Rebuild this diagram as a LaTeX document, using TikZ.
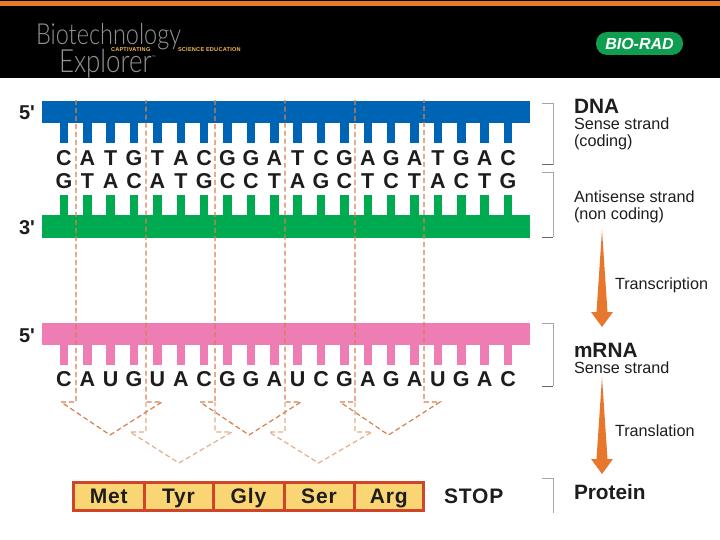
\documentclass[tikz,border=0pt]{standalone}
\usepackage{fontspec}
\setmainfont{Liberation Sans}
\newfontfamily\logofont[FakeStretch=0.81]{Lato Light}
\newfontfamily\spacedfont[LetterSpace=4]{Liberation Sans}
\usepackage{tikz}
\usetikzlibrary{positioning}
\usepackage{xcolor}
\definecolor{cOrange}{RGB}{232,119,46}
\definecolor{cBlue}{RGB}{0,100,180}
\definecolor{cGreen}{RGB}{0,170,80}
\definecolor{cPink}{RGB}{238,125,180}
\definecolor{cRed}{RGB}{208,68,42}
\definecolor{cGold}{RGB}{250,213,115}
\definecolor{cDash}{RGB}{214,128,78}
\definecolor{cDashLt}{RGB}{228,172,140}
\definecolor{cInk}{RGB}{30,28,28}
\definecolor{cBrand}{RGB}{15,157,80}
\tikzset{
  every node/.style={inner sep=0pt,outer sep=0pt,text=cInk},
  barbox/.style={rectangle,minimum width=488pt,minimum height=22pt},
  toothbox/.style={rectangle,minimum width=8.5pt,minimum height=20pt},
  basetxt/.style={font=\fontsize{21.5}{22}\selectfont\bfseries,text height=14.5pt,text depth=0pt},
  endtxt/.style={font=\fontsize{20}{22}\selectfont\bfseries,anchor=center,text height=14pt,text depth=0pt},
  headtxt/.style={font=\fontsize{20.8}{22}\selectfont\bfseries,anchor=base west},
  subtxt/.style={font=\fontsize{16.2}{18}\selectfont,anchor=base west},
  aabox/.style={rectangle,draw=cRed,line width=3pt,fill=cGold,minimum height=28pt,
                font=\fontsize{21}{22}\selectfont\spacedfont\bfseries,text height=14pt,text depth=0pt},
  cutdash/.style={cDash,line width=1.2pt,dash pattern=on 5pt off 3pt},
  cutlight/.style={cDashLt,line width=1.2pt,dash pattern=on 5pt off 3pt},
  brack/.style={gray!70,line width=0.8pt},
  brackend/.style={black!60,line width=1pt}
}
\newcommand{\taperarrow}[3]{\fill[cOrange] (#1,#2) -- (#1+5.5,#3-15) -- (#1+11,#3-15) -- (#1,#3)
  -- (#1-11,#3-15) -- (#1-5.5,#3-15) -- cycle;}
\begin{document}
\begin{tikzpicture}[x=1pt,y=-1pt]
  \useasboundingbox (0,0) rectangle (720,540);

  % Header
  \fill[black] (0,0) rectangle (720,78);
  \fill[cOrange] (0,1) rectangle (720,6);
  \node[anchor=base west,text=gray!85,font=\fontsize{29}{30}\selectfont\logofont] (biotech) at (36,45) {Biotechnology};
  \node[anchor=base west,text=gray!85,font=\fontsize{32}{33}\selectfont\logofont] (explorer) at (59,73) {Explorer\raisebox{14pt}{\fontsize{4}{4}\selectfont\spacedfont\texttrademark}};
  \node[anchor=west,text=cGold!70!orange,font=\fontsize{5.6}{6}\selectfont\bfseries\spacedfont] (tagl) at (111,50) {CAPTIVATING};
  \node[anchor=west,text=cGold!70!orange,font=\fontsize{5.6}{6}\selectfont\bfseries\spacedfont] (tagr) at (178,50) {SCIENCE EDUCATION};
  \node[rectangle,rounded corners=11pt,fill=cBrand,minimum width=87pt,minimum height=23pt,
        text=white,font=\fontsize{16}{16}\selectfont\bfseries\itshape] (biorad) at (639.5,43.5) {BIO-RAD};

  % Strands
  \node[barbox,fill=cBlue] (sense) at (286,112) {};
  \node[barbox,fill=cGreen] (anti) at (286,226.5) {};
  \node[barbox,fill=cPink] (mrna) at (286,334) {};
  \node[endtxt] (lblA) at (27,113) {5\textquotesingle};
  \node[endtxt] (lblB) at (27,228) {3\textquotesingle};
  \node[endtxt] (lblC) at (27,335) {5\textquotesingle};

  % Teeth and bases
  \foreach \b [count=\i from 0, evaluate=\i as \x using 64+23.37*\i] in {C,A,T,G,T,A,C,G,G,A,T,C,G,A,G,A,T,G,A,C} {
    \node[toothbox,fill=cBlue] (st\i) at (\x,133) {};
    \node[basetxt] (sb\i) at (\x,158) {\b};
  }
  \foreach \b [count=\i from 0, evaluate=\i as \x using 64+23.37*\i] in {G,T,A,C,A,T,G,C,C,T,A,G,C,T,C,T,A,C,T,G} {
    \node[toothbox,fill=cGreen] (at\i) at (\x,205) {};
    \node[basetxt] (ab\i) at (\x,181) {\b};
  }
  \foreach \b [count=\i from 0, evaluate=\i as \x using 64+23.37*\i] in {C,A,U,G,U,A,C,G,G,A,U,C,G,A,G,A,U,G,A,C} {
    \node[toothbox,fill=cPink] (mt\i) at (\x,354.5) {};
    \node[basetxt] (mb\i) at (\x,379) {\b};
  }

  % Codon guides
  \foreach \xa/\xb in {146/215,285/355} {
    \draw[cutlight] (\xa,402) -- (\xa,432) -- (\xa-16,432) -- ({(\xa+\xb)/2-1.5},463)
      -- (\xb+17,432) -- (\xb,432) -- (\xb,402);
  }
  \foreach \xa/\xb in {76/146,215/285,355/424} {
    \draw[cutdash] (\xa,100) -- (\xa,402) -- (\xa-15,402) -- ({(\xa+\xb)/2-1},435)
      -- (\xb+16,402) -- (\xb,402) -- (\xb,100);
  }

  % Amino acids
  \foreach \aa/\cx/\bw in {Met/108.75/70.5,Tyr/178.5/69,Gly/248.5/71,Ser/319/70,Arg/388.75/69.5} {
    \node[aabox,minimum width=\bw pt] (aa\aa) at (\cx,496.5) {\aa};
  }
  \node[anchor=west,font=\fontsize{21}{22}\selectfont\spacedfont\bfseries,text height=14pt,text depth=0pt] (stopw) at (444,496) {STOP};

  % Brackets
  \draw[brack] (542,103) -- (553,103) -- (553,165);
  \draw[brackend] (542,165) -- (553,165);
  \draw[brack] (542,172) -- (553,172) -- (553,237);
  \draw[brackend] (542,237) -- (553,237);
  \draw[brack] (542,323) -- (553,323) -- (553,386);
  \draw[brackend] (542,386) -- (553,386);
  \draw[brack] (542,478) -- (553,478) -- (553,513);

  % Right hand labels
  \node[headtxt] (dna) at (574,113.5) {DNA};
  \node[subtxt] (dnaS) at (574,130) {Sense strand};
  \node[subtxt] (dnaC) at (574,147) {(coding)};
  \node[subtxt] (antiS) at (574,203) {Antisense strand};
  \node[subtxt] (antiC) at (574,219) {(non coding)};
  \node[subtxt] (trsc) at (615,289) {Transcription};
  \node[headtxt] (mrnaL) at (574,357) {mRNA};
  \node[subtxt] (mrnaS) at (574,373) {Sense strand};
  \node[subtxt] (trsl) at (615,436) {Translation};
  \node[headtxt] (prot) at (574,499) {Protein};

  % Flow arrows
  \taperarrow{602}{230}{327}
  \taperarrow{602}{377}{474}

\end{tikzpicture}
\end{document}
